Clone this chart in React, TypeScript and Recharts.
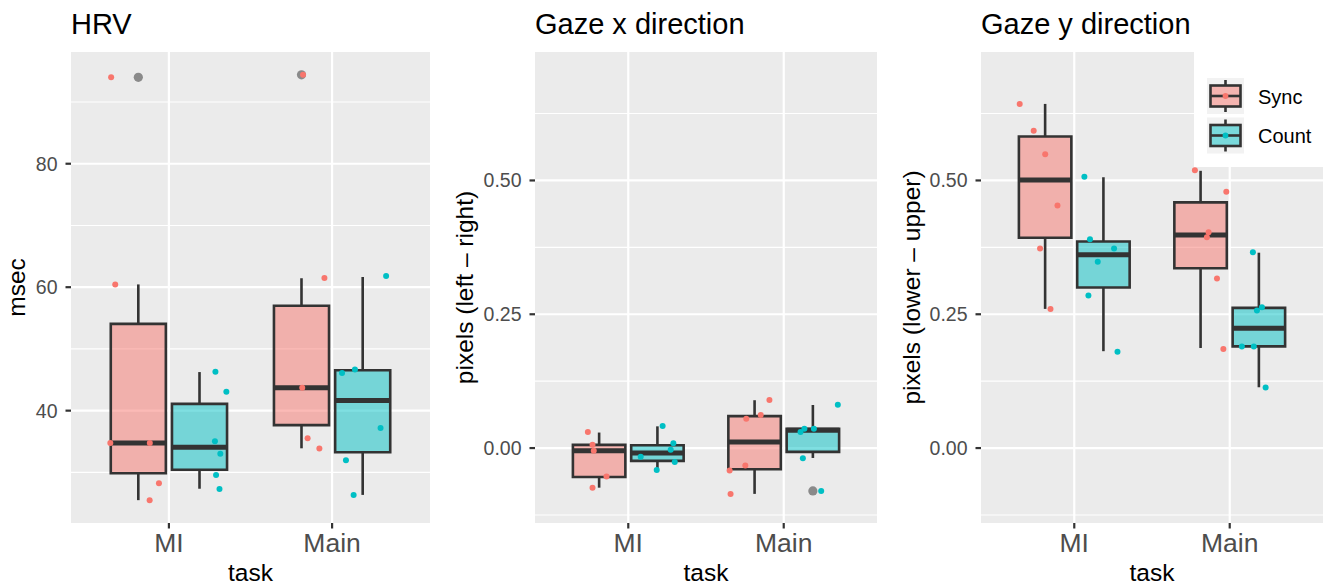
import React from 'react';
import {
  ComposedChart,
  XAxis,
  YAxis,
  CartesianGrid,
  Scatter,
  ReferenceArea,
  ReferenceLine,
} from 'recharts';

// ---------- categories / groups ----------
const tasks = ['MI', 'Main'];
const groupColors: Record<string, string> = { Sync: '#F8766D', Count: '#00BFC4' };

// ---------- HRV (msec) ----------
const hrvSyncBox = [
  { task: 'MI', lower: 25.5, q1: 29.85, median: 34.75, q3: 54.05, upper: 60.45 },
  { task: 'Main', lower: 33.9, q1: 37.65, median: 43.7, q3: 57.0, upper: 61.45 },
];
const hrvCountBox = [
  { task: 'MI', lower: 27.35, q1: 30.42, median: 34.08, q3: 41.1, upper: 46.25 },
  { task: 'Main', lower: 26.35, q1: 33.27, median: 41.65, q3: 46.55, upper: 61.65 },
];
const hrvOutliers = [
  { task: 'MI', group: 'Sync', value: 94.0 },
  { task: 'Main', group: 'Sync', value: 94.4 },
];
const hrvSyncPoints = [
  { x: 0.646, y: 94.0 }, { x: 0.671, y: 60.45 }, { x: 0.641, y: 34.75 },
  { x: 0.883, y: 34.75 }, { x: 0.939, y: 28.22 }, { x: 0.882, y: 25.5 },
  { x: 1.822, y: 94.4 }, { x: 1.953, y: 61.5 }, { x: 1.817, y: 43.7 },
  { x: 1.85, y: 35.52 }, { x: 1.922, y: 33.87 },
];
const hrvCountPoints = [
  { x: 1.285, y: 46.3 }, { x: 1.352, y: 43.07 }, { x: 1.282, y: 35.05 },
  { x: 1.315, y: 33.0 }, { x: 1.289, y: 29.58 }, { x: 1.31, y: 27.32 },
  { x: 2.061, y: 46.1 }, { x: 2.14, y: 46.65 }, { x: 2.297, y: 37.18 },
  { x: 2.085, y: 31.95 }, { x: 2.132, y: 26.32 }, { x: 2.331, y: 61.8 },
];

// ---------- Gaze x direction ----------
const gxSyncBox = [
  { task: 'MI', lower: -0.074, q1: -0.054, median: -0.005, q3: 0.006, upper: 0.029 },
  { task: 'Main', lower: -0.0856, q1: -0.0395, median: 0.0113, q3: 0.0597, upper: 0.0894 },
];
const gxCountBox = [
  { task: 'MI', lower: -0.0406, q1: -0.024, median: -0.0094, q3: 0.0053, upper: 0.0406 },
  { task: 'Main', lower: -0.0185, q1: -0.0072, median: 0.0335, q3: 0.036, upper: 0.0805 },
];
const gxOutliers = [{ task: 'Main', group: 'Count', value: -0.08 }];
const gxSyncPoints = [
  { x: 0.74, y: 0.03 }, { x: 0.77, y: 0.006 }, { x: 0.778, y: -0.005 },
  { x: 0.86, y: -0.053 }, { x: 0.77, y: -0.074 },
  { x: 1.908, y: 0.09 }, { x: 1.852, y: 0.062 }, { x: 1.759, y: 0.055 },
  { x: 1.652, y: -0.042 }, { x: 1.753, y: -0.0325 }, { x: 1.658, y: -0.086 },
];
const gxCountPoints = [
  { x: 1.221, y: 0.041 }, { x: 1.29, y: 0.0088 }, { x: 1.273, y: -0.003 },
  { x: 1.08, y: -0.016 }, { x: 1.299, y: -0.026 }, { x: 1.183, y: -0.041 },
  { x: 2.348, y: 0.081 }, { x: 2.108, y: 0.03 }, { x: 2.133, y: 0.036 },
  { x: 2.194, y: 0.036 }, { x: 2.123, y: -0.019 }, { x: 2.241, y: -0.08 },
];

// ---------- Gaze y direction ----------
const gySyncBox = [
  { task: 'MI', lower: 0.26, q1: 0.393, median: 0.501, q3: 0.582, upper: 0.643 },
  { task: 'Main', lower: 0.187, q1: 0.336, median: 0.398, q3: 0.459, upper: 0.518 },
];
const gyCountBox = [
  { task: 'MI', lower: 0.181, q1: 0.3, median: 0.361, q3: 0.386, upper: 0.506 },
  { task: 'Main', lower: 0.1136, q1: 0.19, median: 0.224, q3: 0.262, upper: 0.365 },
];
const gyOutliers: { task: string; group: string; value: number }[] = [];
const gySyncPoints = [
  { x: 0.649, y: 0.643 }, { x: 0.739, y: 0.593 }, { x: 0.813, y: 0.549 },
  { x: 0.892, y: 0.453 }, { x: 0.78, y: 0.373 }, { x: 0.847, y: 0.26 },
  { x: 1.776, y: 0.519 }, { x: 1.978, y: 0.479 }, { x: 1.864, y: 0.403 },
  { x: 1.853, y: 0.394 }, { x: 1.918, y: 0.317 }, { x: 1.959, y: 0.185 },
];
const gyCountPoints = [
  { x: 1.065, y: 0.507 }, { x: 1.101, y: 0.39 }, { x: 1.256, y: 0.373 },
  { x: 1.151, y: 0.348 }, { x: 1.091, y: 0.285 }, { x: 1.278, y: 0.18 },
  { x: 2.149, y: 0.366 }, { x: 2.207, y: 0.263 }, { x: 2.175, y: 0.257 },
  { x: 2.078, y: 0.19 }, { x: 2.155, y: 0.19 }, { x: 2.231, y: 0.113 },
];

// ---------- axis ticks ----------
const hrvTicks = [40, 60, 80];
const hrvMinor = [30, 50, 70, 90];
const gazeTicks = [0, 0.25, 0.5];
const gazeMinor = [-0.125, 0.125, 0.375, 0.625];

// ---------- styling constants ----------
const FONT = '"Liberation Sans", Arial, Helvetica, sans-serif';
const LINE = '#333333';
const DODGE = 0.1875;
const HALF = 0.16875;
const BOX_W = 2.6;

type Box = { task: string; lower: number; q1: number; median: number; q3: number; upper: number };
type Outlier = { task: string; group: string; value: number };

function centerOf(task: string, group: string) {
  return tasks.indexOf(task) + 1 + (group === 'Sync' ? -DODGE : DODGE);
}

function renderBox(b: Box, group: string) {
  const c = centerOf(b.task, group);
  const color = groupColors[group];
  const k = `${group}-${b.task}`;
  return [
    <ReferenceLine key={`${k}-wl`} segment={[{ x: c, y: b.lower }, { x: c, y: b.q1 }]} stroke={LINE} strokeWidth={BOX_W} strokeOpacity={1} />,
    <ReferenceLine key={`${k}-wu`} segment={[{ x: c, y: b.q3 }, { x: c, y: b.upper }]} stroke={LINE} strokeWidth={BOX_W} strokeOpacity={1} />,
    <ReferenceArea key={`${k}-box`} x1={c - HALF} x2={c + HALF} y1={b.q1} y2={b.q3} fill={color} fillOpacity={0.5} stroke={LINE} strokeWidth={BOX_W} strokeOpacity={1} />,
    <ReferenceLine key={`${k}-med`} segment={[{ x: c - HALF, y: b.median }, { x: c + HALF, y: b.median }]} stroke={LINE} strokeWidth={5} strokeOpacity={1} />,
  ];
}

const dot = (color: string, r: number) => (p: any) =>
  p.cx == null || p.cy == null ? <g /> : <circle cx={p.cx} cy={p.cy} r={r} fill={color} />;

type PanelProps = {
  left: number;
  width: number;
  yAxisWidth: number;
  marginRight: number;
  domain: [number, number];
  ticks: number[];
  minor: number[];
  fmt: (v: number) => string;
  syncBox: Box[];
  countBox: Box[];
  outliers: Outlier[];
  syncPts: { x: number; y: number }[];
  countPts: { x: number; y: number }[];
};

function Panel(props: PanelProps) {
  const outlierData = props.outliers.map((o) => ({ x: centerOf(o.task, o.group), y: o.value }));
  return (
    <div style={{ position: 'absolute', left: props.left, top: 0 }}>
      <ComposedChart
        width={props.width}
        height={585}
        margin={{ top: 52, right: props.marginRight, bottom: 0, left: 0 }}
      >
        <CartesianGrid
          fill="#EBEBEB"
          fillOpacity={1}
          stroke="#FFFFFF"
          strokeWidth={1.1}
          vertical={false}
          horizontalValues={props.minor}
        />
        <CartesianGrid
          stroke="#FFFFFF"
          strokeWidth={2.2}
          horizontalValues={props.ticks}
          verticalValues={[1, 2]}
        />
        <XAxis
          type="number"
          dataKey="x"
          domain={[0.4, 2.6]}
          ticks={[1, 2]}
          interval={0}
          allowDataOverflow
          height={62}
          axisLine={false}
          tickSize={5.5}
          tickMargin={5}
          tickLine={{ stroke: LINE, strokeWidth: 2.2 }}
          tick={{ fontSize: 26.5, fill: '#4D4D4D', fontFamily: FONT }}
          tickFormatter={(v: number) => tasks[Math.round(v) - 1]}
        />
        <YAxis
          type="number"
          dataKey="y"
          domain={props.domain}
          ticks={props.ticks}
          interval={0}
          allowDataOverflow
          width={props.yAxisWidth}
          axisLine={false}
          tickSize={5.5}
          tickMargin={8}
          tickLine={{ stroke: LINE, strokeWidth: 2.2 }}
          tick={{ fontSize: 19.5, fill: '#4D4D4D', fontFamily: FONT }}
          tickFormatter={props.fmt}
        />
        {props.syncBox.map((b) => renderBox(b, 'Sync'))}
        {props.countBox.map((b) => renderBox(b, 'Count'))}
        <Scatter data={outlierData} isAnimationActive={false} shape={dot('#8A8A8A', 4.6)} />
        <Scatter data={props.syncPts} isAnimationActive={false} shape={dot(groupColors.Sync, 3)} />
        <Scatter data={props.countPts} isAnimationActive={false} shape={dot(groupColors.Count, 3)} />
      </ComposedChart>
    </div>
  );
}

function LegendKey({ y, color }: { y: number; color: string }) {
  const cx = 1225.5;
  const cy = y + 18;
  return (
    <g>
      <rect x={1207} y={y} width={37} height={36} fill="#F2F2F2" />
      <line x1={cx} x2={cx} y1={y + 2} y2={y + 34} stroke={LINE} strokeWidth={2.6} />
      <rect x={1210.5} y={cy - 10.5} width={30} height={21} fill="#F2F2F2" />
      <rect x={1210.5} y={cy - 10.5} width={30} height={21} fill={color} fillOpacity={0.5} stroke={LINE} strokeWidth={2.6} />
      <line x1={1210.5} x2={1240.5} y1={cy} y2={cy} stroke={LINE} strokeWidth={2.6} />
      <circle cx={cx} cy={cy} r={2.9} fill={color} />
    </g>
  );
}

export default function App() {
  const hrvFmt = (v: number) => String(v);
  const gazeFmt = (v: number) => v.toFixed(2);
  return (
    <div style={{ position: 'absolute', left: 0, top: 0, width: 1327, height: 585, background: '#FFFFFF' }}>
      <Panel
        left={0}
        width={440}
        yAxisWidth={71}
        marginRight={10}
        domain={[21.8, 98.1]}
        ticks={hrvTicks}
        minor={hrvMinor}
        fmt={hrvFmt}
        syncBox={hrvSyncBox}
        countBox={hrvCountBox}
        outliers={hrvOutliers}
        syncPts={hrvSyncPoints}
        countPts={hrvCountPoints}
      />
      <Panel
        left={440}
        width={440}
        yAxisWidth={95}
        marginRight={3}
        domain={[-0.14, 0.74]}
        ticks={gazeTicks}
        minor={gazeMinor}
        fmt={gazeFmt}
        syncBox={gxSyncBox}
        countBox={gxCountBox}
        outliers={gxOutliers}
        syncPts={gxSyncPoints}
        countPts={gxCountPoints}
      />
      <Panel
        left={880}
        width={447}
        yAxisWidth={101}
        marginRight={4}
        domain={[-0.14, 0.74]}
        ticks={gazeTicks}
        minor={gazeMinor}
        fmt={gazeFmt}
        syncBox={gySyncBox}
        countBox={gyCountBox}
        outliers={gyOutliers}
        syncPts={gySyncPoints}
        countPts={gyCountPoints}
      />
      <svg
        width={1327}
        height={585}
        style={{ position: 'absolute', left: 0, top: 0, pointerEvents: 'none' }}
        fontFamily={FONT}
      >
        <text x={71} y={33.5} fontSize={29} fill="#000">HRV</text>
        <text x={535} y={33.5} fontSize={29} fill="#000">Gaze x direction</text>
        <text x={981} y={33.5} fontSize={29} fill="#000">Gaze y direction</text>

        <text transform="translate(25,287.5) rotate(-90)" textAnchor="middle" fontSize={24.5} fill="#000">msec</text>
        <text transform="translate(473,287.5) rotate(-90)" textAnchor="middle" fontSize={24.5} fill="#000">pixels (left – right)</text>
        <text transform="translate(920,287.5) rotate(-90)" textAnchor="middle" fontSize={24.5} fill="#000">pixels (lower – upper)</text>

        <text x={250.5} y={581} textAnchor="middle" fontSize={24.5} fill="#000">task</text>
        <text x={706} y={581} textAnchor="middle" fontSize={24.5} fill="#000">task</text>
        <text x={1152} y={581} textAnchor="middle" fontSize={24.5} fill="#000">task</text>

        <rect x={1194} y={46} width={133} height={121} fill="#FFFFFF" />
        <LegendKey y={78} color={groupColors.Sync} />
        <LegendKey y={117.5} color={groupColors.Count} />
        <text x={1258} y={103.5} fontSize={20} fill="#000">Sync</text>
        <text x={1258} y={142.5} fontSize={20} fill="#000">Count</text>
      </svg>
    </div>
  );
}
